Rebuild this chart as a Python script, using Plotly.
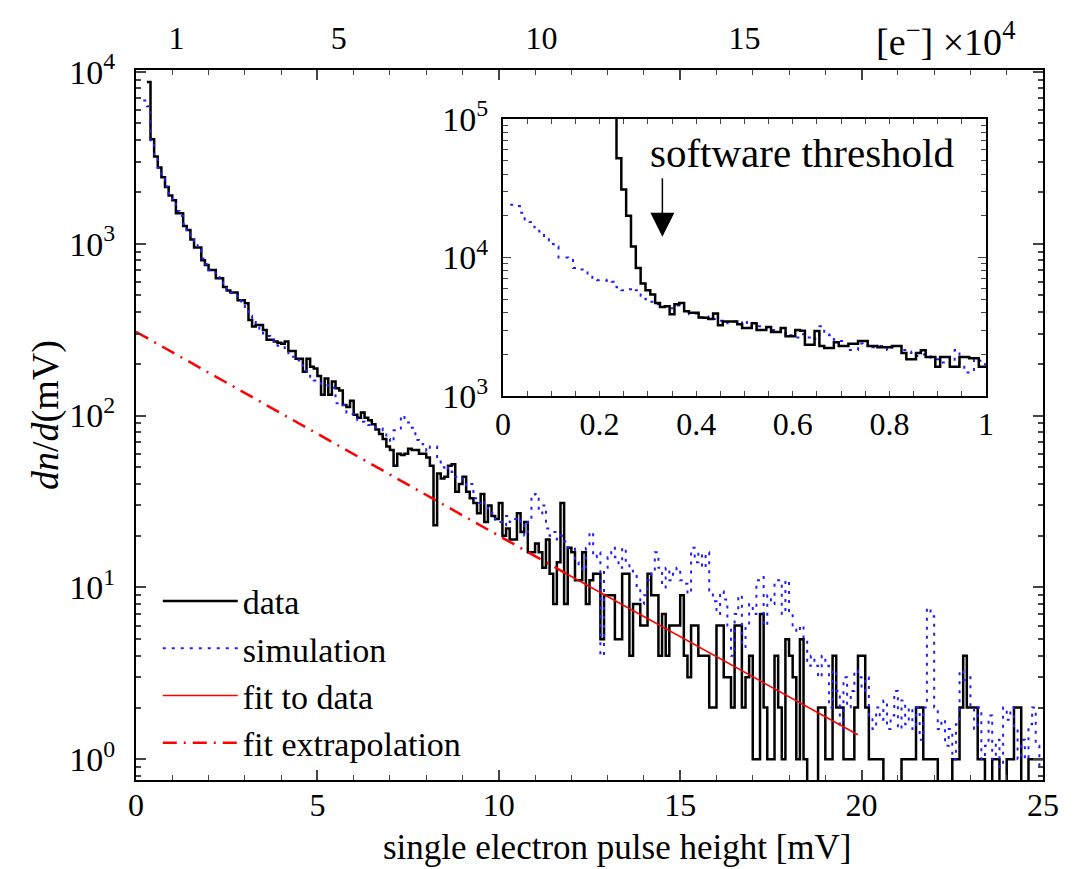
import numpy as np
import plotly.graph_objects as go

# ---------------- data (main panel, 0.1 mV bins) ----------------
bin_width_main = 0.1
data_start = 0.3
data_counts = [
    8700, 4050, 3215, 2770, 2430, 2136, 1906,                      # 0.3-0.9
    1786, 1500, 1500, 1265, 1200, 1058, 950, 950, 800, 750,         # 1.0-1.9
    703, 703, 630, 630, 560, 534, 520, 520, 468, 468,               # 2.0-2.9
    450, 360, 330, 336, 336, 315, 276, 276, 270, 265,               # 3.0-3.9
    262, 270, 237, 237, 214, 214, 180, 214, 192, 188,               # 4.0-4.9
    170, 132, 164, 132, 158, 144, 140, 115, 112, 122,               # 5.0-5.9
    101, 97, 104, 97, 94, 89, 83, 78, 73, 66,                       # 6.0-6.9
    63, 51, 60, 59, 60, 64, 63, 63, 60, 60,                         # 7.0-7.9
    57, 51, 23, 46, 43, 44, 51, 52, 36, 40,                         # 8.0-8.9
    44, 36, 33, 31, 27, 35, 24, 30, 26, 25,                         # 9.0-9.9
    31, 20, 22, 19, 19, 27, 21, 24, 16, 16,                         # 10.0-10.9
    18, 16, 13, 19, 12, 8, 14, 31, 8, 17,                           # 11.0-11.9
    16, 11, 11, 16, 8, 11, 12, 12, 5, 9,                            # 12.0-12.9
    9, 9, 5, 5, 12, 12, 4, 8, 8, 6,                                 # 13.0-13.9
    6, 12, 9, 9, 4, 7, 4, 6, 6, 6,                                  # 14.0-14.9
    9, 4, 3, 6, 6, 4, 4, 4, 2, 2,                                   # 15.0-15.9
    6, 6, 3, 3, 2, 6, 6, 2, 3, 4,                                   # 16.0-16.9
    1, 1, 7, 2, 1, 1, 4, 2, 1, 5,                                   # 17.0-17.9
    4, 3, 1, 5, 1, 0, 0, 0, 2, 2,                                   # 18.0-18.9
    1, 1, 4, 2, 2, 1, 1, 1, 2, 4,                                   # 19.0-19.9
    4, 2, 1, 1, 1, 1, 0, 0, 0, 0,                                   # 20.0-20.9
    0, 1, 1, 1, 1, 2, 2, 1, 1, 1,                                   # 21.0-21.9
    1, 0, 0, 0, 0, 1, 1, 2, 4, 2,                                   # 22.0-22.9
    2, 2, 1, 1, 0, 0, 1, 1, 0, 0,                                   # 23.0-23.9
    1, 1, 2, 2, 0, 0, 1, 1, 1, 1,                                   # 24.0-24.9
]

sim_start = 0.2
sim_values = [
    6800, 6300, 4000, 3300, 2750, 2450, 2150, 1950,                 # 0.2-0.9
    1750, 1550, 1450, 1300, 1180, 1080, 980, 920, 820, 760,         # 1.0-1.9
    700, 680, 640, 600, 570, 540, 520, 500, 470, 450,               # 2.0-2.9
    410, 380, 350, 330, 320, 300, 290, 275, 260, 255,               # 3.0-3.9
    250, 240, 230, 220, 210, 200, 190, 180, 165, 160,               # 4.0-4.9
    158, 150, 150, 148, 145, 118, 116, 115, 104, 102,               # 5.0-5.9
    100, 94, 92, 89, 88, 86, 85, 84, 82, 73,                        # 6.0-6.9
    70, 82, 84, 100, 95, 91, 85, 72, 70, 68,                        # 7.0-7.9
    62, 66, 66, 55, 50, 48, 50, 47, 44, 44,                         # 8.0-8.9
    41, 39, 40, 33, 31, 32, 30, 28, 27, 24,                         # 9.0-9.9
    24, 23, 26, 24, 25, 24, 24.5, 20, 24, 34,                       # 10.0-10.9
    35, 27, 30, 22, 20, 21, 19, 20, 18.5, 17,                       # 11.0-11.9
    17, 14, 13, 12.5, 17, 21, 15, 16, 4, 13,                        # 12.0-12.9
    15, 17, 15, 13, 17, 14, 12.5, 12, 10, 8,                        # 13.0-13.9
    9, 11, 12, 16, 13, 10, 13, 11, 12, 13,                          # 14.0-14.9
    11, 10.5, 9.2, 17, 14, 16, 13, 16, 9.6, 8.3,                    # 15.0-15.9
    7, 9.5, 8.5, 6, 4, 7, 9, 4.5, 6, 8,                             # 16.0-16.9
    7, 11, 11.5, 6, 9, 8, 11, 11, 7, 11,                            # 17.0-17.9
    7, 6, 5.5, 6, 5, 3.5, 4, 3.5, 3, 4,                             # 18.0-18.9
    3.5, 2, 3.3, 2.5, 1.5, 3, 2, 2.5, 3.3, 3,                       # 19.0-19.9
    2.5, 3, 1.8, 1.5, 2, 1.7, 2.2, 1.5, 1.8, 2.5,                   # 20.0-20.9
    1.5, 2.2, 1.6, 2, 1.5, 2, 1.3, 2, 7.6, 6.8,                     # 21.0-21.9
    2, 1.5, 1.7, 1.2, 1.5, 1, 1.6, 3.3, 2.9, 3,                     # 22.0-22.9
    2, 1.5, 2, 1, 1.2, 1.8, 1, 1.3, 0.9, 2,                         # 23.0-23.9
    1.7, 2, 1.5, 1, 1.3, 1, 1.6, 2, 1.2, 0.9,                       # 24.0-24.9
]

# exponential fit (straight on log scale): end points
fit_x = [11.9, 19.9]
fit_y = [11.9, 1.39]
extrap_x = [0.0, 11.9]
extrap_y = [307, 11.9]

# ---------------- inset (0.01 mV bins) ----------------
bin_width_inset = 0.01
inset_data_start = 0.225
inset_data = [
    150000, 52000, 31000, 20000, 12000, 8400, 6500, 5800, 5400, 4700, 4400,
    4450, 3900, 4600, 4700, 4100, 4000, 4000, 3700, 3680, 3600,
    3950, 3250, 3450, 3450, 3450, 3300, 3100, 3100, 3350, 3000,
    3000, 3150, 2900, 2900, 3100, 2700, 2700, 3000, 2960, 2350,
    2350, 2950, 2300, 2230, 2230, 2450, 2300, 2300, 2390, 2390,
    2500, 2500, 2300, 2300, 2250, 2250, 2250, 2300, 2300, 2050,
    1850, 1850, 2050, 2140, 1920, 1920, 1630, 1920, 1920, 1630,
    1630, 1920, 1920, 1880, 1880, 1630, 1630,
]
inset_sim_start = 0.015
inset_sim = [
    24000, 23500, 21000, 18800, 18000, 16500, 15400, 14000, 12500, 12000,
    10000, 10000, 9800, 8400, 8200, 8000, 7500, 6900, 6850, 6800,
    6900, 6700, 6100, 5800, 5900, 5700, 5800, 5300, 5000, 4800,
    4600, 4400, 4400, 4300, 4500, 4400, 4100, 3900, 3950, 3700,
    3750, 3550, 3600, 3500, 3350, 3400, 3450, 3350, 3500, 3250,
    3150, 3200, 3100, 3050, 3000, 3050, 2900, 2700, 2750, 2650,
    2800, 2650, 2700, 2600, 3200, 2800, 2750, 2550, 2500, 2300,
    2150, 2150, 2400, 2300, 2350, 2250, 2300, 2250, 2150, 2250,
    2300, 2150, 2100, 2050, 1950, 2000, 1950, 1900, 1850, 1750,
    1800, 1750, 2150, 1700, 1480, 1480, 1850, 1800, 1700,
]

# top axis: electrons (x 10^4) per mV conversion and labels
mv_per_1e4_electrons = 1.118
top_tickvals = [1, 5, 10, 15]

FONT = "Liberation Serif"
LOG_FLOOR = 1e-3  # empty bins drop below the axis


def steps(start, width, vals):
    n = len(vals)
    edges = np.round(start + width * np.arange(n + 1), 4)
    v = np.asarray(vals, dtype=float)
    v = np.where(v > 0, v, LOG_FLOOR)
    return edges, np.append(v, v[-1])


fig = go.Figure()

ex, ey = steps(data_start, bin_width_main, data_counts)
sx, sy = steps(sim_start, bin_width_main, sim_values)

BLUE = "rgb(30,30,255)"
fig.add_trace(go.Scatter(x=ex, y=ey, mode="lines", line_shape="hv",
                         line=dict(color="black", width=2.5), name="data"))
fig.add_trace(go.Scatter(x=sx, y=sy, mode="lines", line_shape="hv",
                         line=dict(color=BLUE, width=2, dash="3px,6px"),
                         name="simulation"))
fig.add_trace(go.Scatter(x=fit_x, y=fit_y, mode="lines",
                         line=dict(color="red", width=1.5), name="fit to data"))
fig.add_trace(go.Scatter(x=extrap_x, y=extrap_y, mode="lines",
                         line=dict(color="red", width=2.5, dash="14px,7px,2px,7px"),
                         name="fit extrapolation"))

# invisible trace to activate the top axis
fig.add_trace(go.Scatter(x=[0], y=[1], xaxis="x2", yaxis="y", mode="markers",
                         marker=dict(opacity=0), showlegend=False, hoverinfo="skip"))

# inset
ix, iy = steps(inset_data_start, bin_width_inset, inset_data)
isx, isy = steps(inset_sim_start, bin_width_inset, inset_sim)
fig.add_trace(go.Scatter(x=isx, y=isy, mode="lines", line_shape="hv", xaxis="x3", yaxis="y3",
                         line=dict(color=BLUE, width=2, dash="3px,6px"),
                         showlegend=False))
fig.add_trace(go.Scatter(x=ix, y=iy, mode="lines", line_shape="hv", xaxis="x3", yaxis="y3",
                         line=dict(color="black", width=2.5), showlegend=False))

tickfont = dict(family=FONT, size=32, color="black")
ytickfont = dict(family=FONT, size=34, color="black")
decades_main = [1, 10, 100, 1000, 10000]
minor_main = [m * d for d in [0.1, 1, 10, 100, 1000] for m in range(2, 10)]
decades_inset = [1000, 10000, 100000]
minor_inset = [m * d for d in [1000, 10000] for m in range(2, 10)]

fig.update_layout(
    width=1067, height=861,
    margin=dict(l=128, r=32, t=45, b=89),
    paper_bgcolor="white", plot_bgcolor="white",
    font=dict(family=FONT, size=32, color="black"),
    showlegend=True,
    legend=dict(x=0.024, y=0.012, xanchor="left", yanchor="bottom",
                bgcolor="rgba(0,0,0,0)", font=dict(family=FONT, size=34),
                tracegroupgap=0, itemwidth=75),
    xaxis=dict(range=[0, 25], tickvals=[0, 5, 10, 15, 20, 25], ticks="inside", ticklen=10,
               tickwidth=1.5, minor=dict(dtick=1, ticks="inside", ticklen=5, tickwidth=1),
               showline=True, linewidth=2, linecolor="black", mirror="ticks",
               showgrid=False, zeroline=False, tickfont=tickfont, ticklabelstandoff=-4),
    xaxis2=dict(overlaying="x", side="top", anchor="y", range=[0, 25 / mv_per_1e4_electrons],
                tickvals=top_tickvals, ticks="", showline=False, showgrid=False,
                zeroline=False, tickfont=tickfont, ticklabelstandoff=14),
    yaxis=dict(type="log", range=[-0.12, 4.01], tickvals=decades_main,
               ticktext=["10<sup>%d</sup>" % int(np.log10(v)) for v in decades_main],
               ticks="inside", ticklen=10, tickwidth=1.5,
               minor=dict(tickmode="array", tickvals=minor_main, ticks="inside", ticklen=5),
               showline=True, linewidth=2, linecolor="black", mirror="ticks",
               showgrid=False, zeroline=False, tickfont=ytickfont, ticklabelstandoff=12),
    xaxis3=dict(domain=[0.4046, 0.9372], anchor="y3", range=[0, 1],
                tickvals=[0, 0.2, 0.4, 0.6, 0.8, 1], ticktext=["0", "0.2", "0.4", "0.6", "0.8", "1"],
                ticks="inside", ticklen=5, minor=dict(dtick=0.05, ticks="inside", ticklen=5),
                showline=True, linewidth=2, linecolor="black", mirror="ticks",
                showgrid=False, zeroline=False, tickfont=tickfont, ticklabelstandoff=-2),
    yaxis3=dict(domain=[0.5406, 0.9312], anchor="x3", type="log", range=[3, 5],
                tickvals=decades_inset,
                ticktext=["10<sup>%d</sup>" % int(np.log10(v)) for v in decades_inset],
                ticks="inside", ticklen=8,
                minor=dict(tickmode="array", tickvals=minor_inset, ticks="inside", ticklen=5),
                showline=True, linewidth=2, linecolor="black", mirror="ticks",
                showgrid=False, zeroline=False, tickfont=ytickfont, ticklabelstandoff=6),
)

fig.add_annotation(text="software threshold", xref="x3", yref="y3", x=0.62, y=4.754,
                   xanchor="center", yanchor="middle",
                   showarrow=False, font=dict(family=FONT, size=41))
fig.add_annotation(text="", xref="x3", yref="y3", x=0.33, y=4.15, ax=0, ay=-60,
                   showarrow=True, arrowhead=2, arrowsize=3.2, arrowwidth=1.5, arrowcolor="black")
fig.add_annotation(text="[e<sup>−</sup>] ×10<sup>4</sup>", xref="paper", yref="paper",
                   x=0.893, y=1.043, xanchor="center", yanchor="middle",
                   showarrow=False, font=dict(family=FONT, size=38))
fig.add_annotation(text="single electron pulse height [mV]", xref="paper", yref="paper",
                   x=0.530, y=-0.095, xanchor="center", yanchor="middle",
                   showarrow=False, font=dict(family=FONT, size=35))
fig.add_annotation(text="<i>dn</i>/<i>d</i>(mV)", xref="paper", yref="paper",
                   x=-0.1003, y=0.514, xanchor="center", yanchor="middle", textangle=-90,
                   showarrow=False, font=dict(family=FONT, size=38))

fig.write_html("out.html")
